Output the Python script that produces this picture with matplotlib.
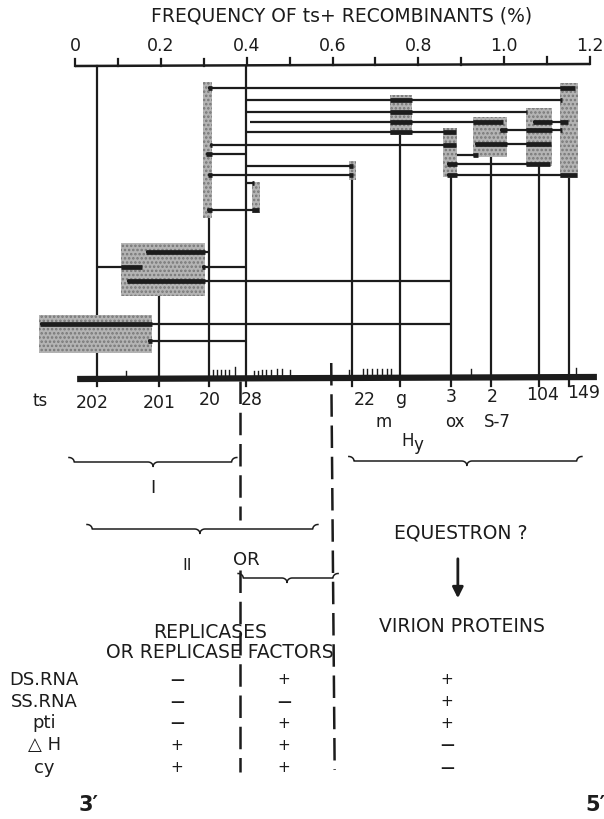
import matplotlib
matplotlib.use("Agg")
import matplotlib.pyplot as plt
import numpy as np

# x values are recombination frequencies (%), y values are drawing rows (top = 0)

# ts markers on the genetic map
marker_names = ["202", "201", "20", "28", "22", "g", "3", "2", "104", "149"]
marker_pos = [0.051, 0.195, 0.312, 0.398, 0.645, 0.757, 0.876, 0.969, 1.081, 1.151]
marker_top = [66, 296, 218, 66, 180, 135, 177, 157, 166, 178]
label_x = [0.041, 0.196, 0.315, 0.412, 0.676, 0.762, 0.876, 0.972, 1.090, 1.186]
label_y = [403, 403, 400, 400, 400, 399, 397, 397, 395, 393]

# shaded ranges of recombination frequency
box_x0 = [0.298, 0.412, 0.638, 0.734, 0.857, 0.927, 1.051, 1.130, 0.107, -0.084]
box_x1 = [0.319, 0.431, 0.655, 0.785, 0.890, 1.007, 1.111, 1.172, 0.303, 0.179]
box_y0 = [82, 182, 161, 95, 128, 117, 108, 83, 243, 315]
box_y1 = [218, 213, 180, 135, 177, 157, 166, 178, 296, 353]

# horizontal distance lines between crosses
seg_y = [88, 100, 112, 121.5, 132, 144.5, 154, 166, 175, 183, 209.5,
         121.5, 130, 144, 154.5, 163.5, 175,
         252, 266.5, 266.5, 281, 323.5, 341]
seg_x0 = [0.310, 0.398, 0.398, 0.408, 0.398, 0.315, 0.305, 0.398, 0.310, 0.398, 0.308,
          1.067, 0.990, 0.932, 0.890, 0.867, 0.867,
          0.165, 0.051, 0.296, 0.121, -0.082, 0.170]
seg_x1 = [1.165, 1.135, 1.053, 0.997, 0.888, 0.888, 0.398, 0.648, 0.648, 0.417, 0.429,
          1.149, 1.135, 1.109, 0.939, 1.107, 1.170,
          0.310, 0.156, 0.398, 0.876, 0.876, 0.398]

# small unnamed ticks on the map
map_ticks = [0.119, 0.322, 0.331, 0.340, 0.349, 0.359, 0.373, 0.417, 0.426, 0.436,
             0.445, 0.457, 0.471, 0.482, 0.501, 0.638, 0.671, 0.680, 0.692, 0.704,
             0.715, 0.727, 0.736, 0.923, 1.167]
map_tick_h = [4, 5, 5, 5, 5, 5, 8, 4, 4, 5, 5, 5, 6, 6, 5, 5, 6, 6, 6, 6, 6, 6, 6, 6, 7]

freq_labels = ["0", "0.2", "0.4", "0.6", "0.8", "1.0", "1.2"]
freq_label_vals = [0, 0.2, 0.4, 0.6, 0.8, 1.0, 1.2]

# phenotype table
row_labels = ["DS.RNA", "SS.RNA", "pti", "\u25b3 H", "cy"]
col_replicase_1 = ["-", "-", "-", "+", "+"]
col_replicase_2 = ["+", "-", "+", "+", "+"]
col_virion = ["+", "+", "+", "-", "-"]

ink = "#1c1c1c"
shade = "#b4b4b4"

plt.rcParams["font.family"] = ["DejaVu Sans"]
plt.rcParams["hatch.linewidth"] = 1.2
plt.rcParams["hatch.color"] = "#777777"

fig = plt.figure(figsize=(6.04, 8.19), dpi=100)
ax = fig.add_axes([0, 0, 1, 1])
ax.set_xlim(-0.1747, 1.2325)
ax.set_ylim(819, 0)
ax.axis("off")

# title and top frequency axis
ax.text(0.62, 16, "FREQUENCY OF ts+ RECOMBINANTS (%)", ha="center", va="center",
        fontsize=13.5, color=ink)
ax.plot([0, 1.2], [66, 64], color=ink, lw=1.8, solid_capstyle="butt")
for t in np.arange(0, 1.21, 0.1):
    yb = 66 - 2 * t / 1.2
    ax.plot([t, t], [yb, yb - 7], color=ink, lw=1.6)
for v, s in zip(freq_label_vals, freq_labels):
    ax.text(v, 46, s, ha="center", va="center", fontsize=12.5, color=ink)

# shaded boxes
for x0, x1, y0, y1 in zip(box_x0, box_x1, box_y0, box_y1):
    ax.fill_between([x0, x1], y0, y1, facecolor=shade, hatch="....", lw=0, zorder=2)

# vertical marker lines down to the map
for p, top in zip(marker_pos, marker_top):
    ax.plot([p, p], [top, 386], color=ink, lw=1.6, zorder=1)

# horizontal lines, thicker where they run through a shaded box
for y, x0, x1 in zip(seg_y, seg_x0, seg_x1):
    ax.plot([x0, x1], [y, y], color=ink, lw=1.6, zorder=3, solid_capstyle="butt")
    for bx0, bx1, by0, by1 in zip(box_x0, box_x1, box_y0, box_y1):
        if by0 <= y <= by1:
            a, b = max(x0, bx0), min(x1, bx1)
            if b > a:
                ax.plot([a, b], [y, y], color=ink, lw=3.4, zorder=3,
                        solid_capstyle="butt")

# genetic map
ax.plot([0.005, 1.216], [379, 377], color=ink, lw=4.5, solid_capstyle="butt", zorder=4)
for p, h in zip(map_ticks, map_tick_h):
    ax.plot([p, p], [377, 377 - h - 2], color=ink, lw=1.0, zorder=4)

ax.text(-0.082, 401, "ts", ha="center", va="center", fontsize=12, color=ink)
for name, x, y in zip(marker_names, label_x, label_y):
    ax.text(x, y, name, ha="center", va="center", fontsize=12.5, color=ink)
ax.text(0.718, 422, "m", ha="center", va="center", fontsize=12, color=ink)
ax.text(0.884, 422, "ox", ha="center", va="center", fontsize=12, color=ink)
ax.text(0.983, 422, "S-7", ha="center", va="center", fontsize=12, color=ink)
ax.text(0.775, 441, "H", ha="center", va="center", fontsize=12, color=ink)
ax.text(0.801, 445, "y", ha="center", va="center", fontsize=12, color=ink)

# dashed dividers
dash = (0, (9, 3.5))
ax.plot([0.384, 0.384], [381, 520], color=ink, lw=1.8, linestyle=dash)
ax.plot([0.384, 0.384], [570, 772], color=ink, lw=1.8, linestyle=dash)
ax.plot([0.597, 0.605], [363, 770], color=ink, lw=1.8, linestyle=dash)


def brace(x0, x1, xm, y, h=4.5, dx=0.012):
    t = np.linspace(0, np.pi / 2, 12)
    xs = np.concatenate([x0 + dx * np.sin(t),
                         xm - dx + dx * np.sin(t),
                         (xm + dx - dx * np.sin(t))[::-1],
                         (x1 - dx * np.sin(t))[::-1]])
    ys = np.concatenate([y - h * np.cos(t),
                         y + h * (1 - np.cos(t)),
                         (y + h * (1 - np.cos(t)))[::-1],
                         (y - h * np.cos(t))[::-1]])
    ax.plot(xs, ys, color=ink, lw=1.1)


brace(-0.014, 0.377, 0.182, 462)
brace(0.638, 1.181, 0.913, 461)
brace(0.028, 0.566, 0.291, 529)
brace(0.380, 0.613, 0.494, 578)

ax.text(0.182, 488, "I", ha="center", va="center", fontsize=13, color=ink)
ax.text(0.261, 566, "II", ha="center", va="center", fontsize=11.5, color=ink)
ax.text(0.400, 560, "OR", ha="center", va="center", fontsize=13, color=ink)
ax.text(0.899, 533, "EQUESTRON ?", ha="center", va="center", fontsize=13.5, color=ink)
ax.annotate("", xy=(0.892, 601), xytext=(0.892, 556),
            arrowprops=dict(arrowstyle="-|>", lw=2.0, color=ink, mutation_scale=16))

ax.text(0.315, 632, "REPLICASES", ha="center", va="center", fontsize=13.5, color=ink)
ax.text(0.338, 653, "OR REPLICASE FACTORS", ha="center", va="center", fontsize=13.5, color=ink)
ax.text(0.902, 627, "VIRION PROTEINS", ha="center", va="center", fontsize=13.5, color=ink)

row_y = [680, 702, 723, 745, 768]
for y, lab, a, b, c in zip(row_y, row_labels, col_replicase_1, col_replicase_2, col_virion):
    ax.text(-0.072, y, lab, ha="center", va="center", fontsize=13, color=ink)
    for x, s in [(0.238, a), (0.487, b), (0.867, c)]:
        if s == "+":
            ax.text(x, y, "+", ha="center", va="center", fontsize=11, color=ink)
        else:
            ax.text(x, y, "\u2014", ha="center", va="center", fontsize=10,
                    fontweight="bold", color=ink)

ax.text(0.032, 805, "3\u2032", ha="center", va="center", fontsize=15, fontweight="bold", color=ink)
ax.text(1.212, 805, "5\u2032", ha="center", va="center", fontsize=15, fontweight="bold", color=ink)

fig.savefig("out.png", dpi=100, facecolor="white")
